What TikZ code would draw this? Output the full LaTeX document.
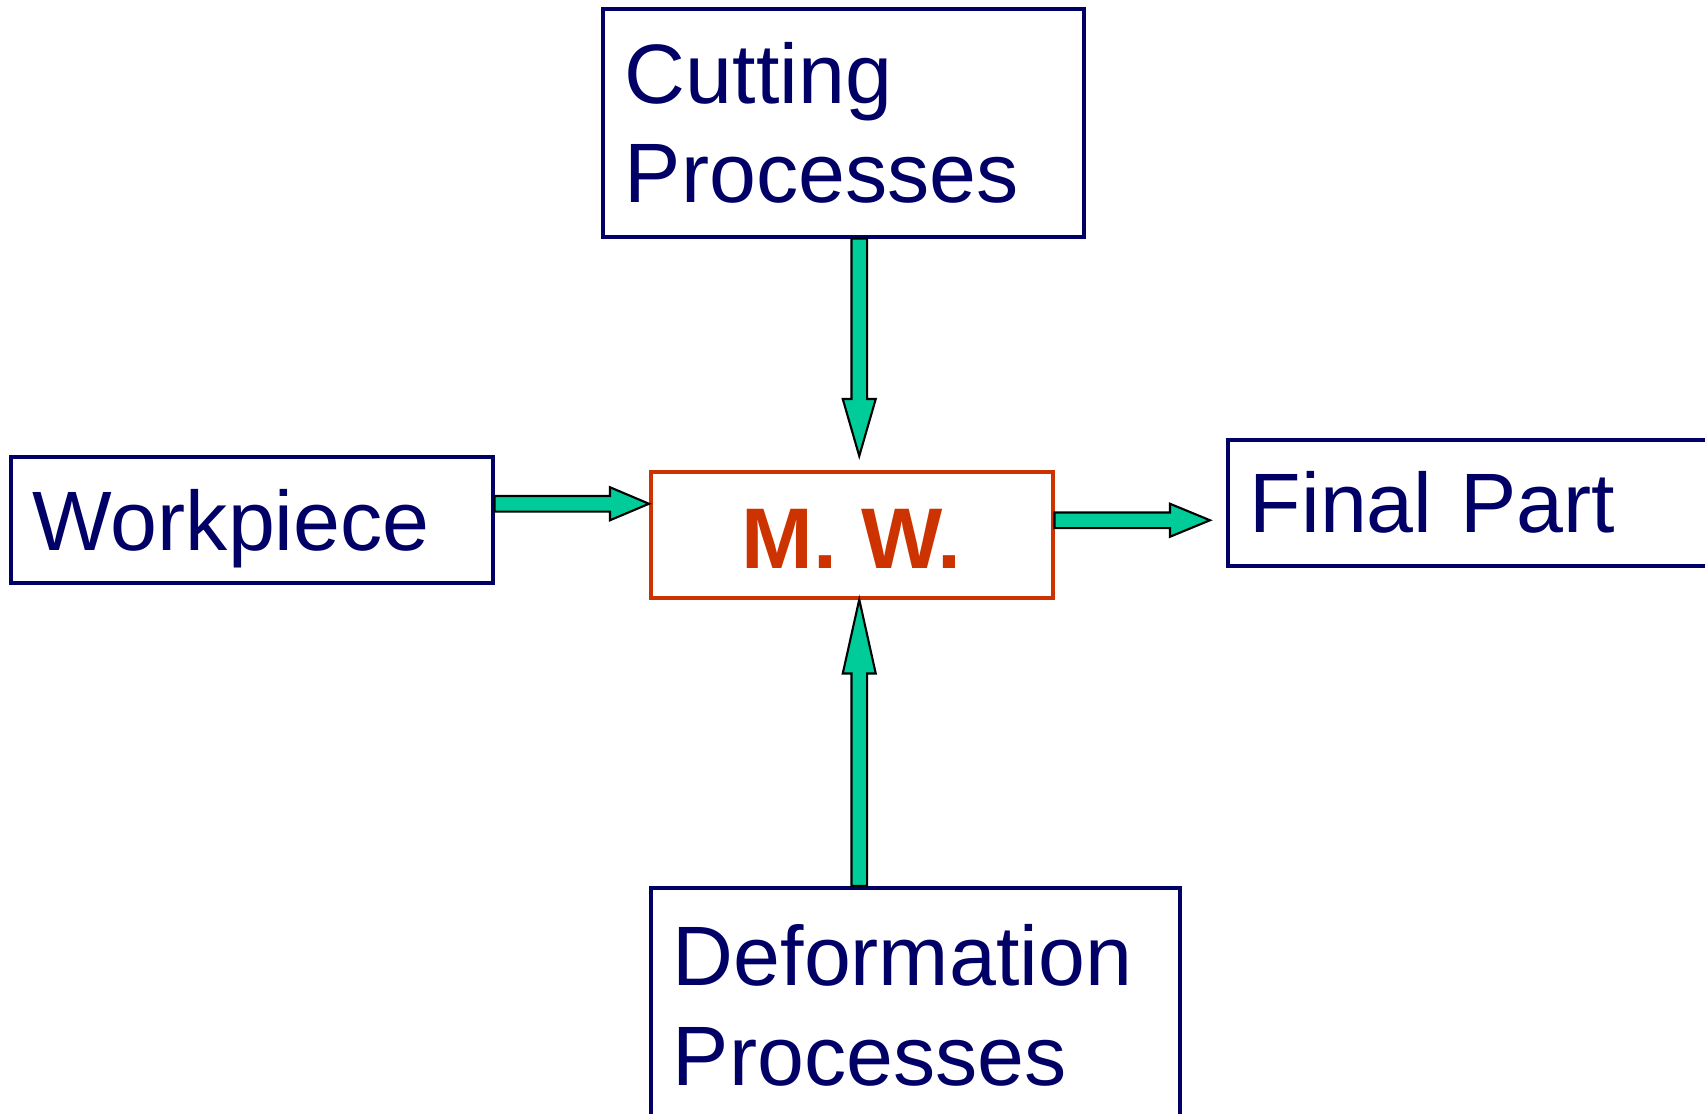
\documentclass[tikz,border=0pt]{standalone}
\usepackage{fontspec}
\setmainfont{Liberation Sans}
\usepackage{tikz}
\usetikzlibrary{calc}
\definecolor{MWNavy}{HTML}{000066}
\definecolor{MWRed}{HTML}{CC3300}
\definecolor{MWGreen}{HTML}{00CC99}
\tikzset{
  procbox/.style={rectangle,draw=MWNavy,line width=1pt,text=MWNavy,anchor=north west,align=left,inner xsep=0.22cm,inner ysep=0pt,font=\fontsize{24pt}{28.3pt}\selectfont},
  mwbox/.style={rectangle,draw=MWRed,line width=1pt,text=MWRed,anchor=north west,minimum width=4.02cm,minimum height=1.26cm,inner sep=0pt,font=\fontsize{24.5pt}{28pt}\selectfont\bfseries},
  fatarrow/.style={draw=black,fill=MWGreen,line width=0.6pt,line join=miter,
    to path={let \p1=(\tikztostart), \p2=(\tikztotarget), \p3=($(\tikztotarget)!#1!(\tikztostart)$), \n1={atan2(\y2-\y1,\x2-\x1)} in
      ($(\p1)+(\n1+90:0.078cm)$) -- ($(\p3)+(\n1+90:0.078cm)$) -- ($(\p3)+(\n1+90:0.165cm)$) -- (\p2)
      -- ($(\p3)+(\n1-90:0.165cm)$) -- ($(\p3)+(\n1-90:0.078cm)$) -- ($(\p1)+(\n1-90:0.078cm)$) -- cycle}},
  fatarrow/.default=0.4cm,
}

\begin{document}
\begin{tikzpicture}
  \useasboundingbox (0,0) rectangle (17.05,-11.14);
  \node[procbox,text width=4.37cm,minimum height=2.28cm] (cut) at (6.01,-0.07) {Cutting\\Processes};
  \node[procbox,text width=4.38cm,minimum height=1.26cm,text depth=0pt] (wp) at (0.09,-4.55) {Workpiece};
  \node[mwbox,text height=0.68cm,text depth=0pt] (mw) at (6.49,-4.70) {M. W.};
  \node[procbox,text width=5.5cm,minimum height=1.26cm] (fp) at (12.26,-4.38) {Final Part};
  \node[procbox,text width=4.85cm,minimum height=2.35cm] (def) at (6.49,-8.86) {Deformation\\Processes};

  \coordinate (cutout) at ([xshift=0.16cm]cut.south);
  \coordinate (defout) at ([xshift=-0.56cm]def.north);
  \coordinate (wpout) at ([yshift=0.16cm]wp.east);
  \coordinate (mwout) at ([yshift=0.145cm]mw.east);

  \draw[fatarrow=0.57cm] (cutout) to ([yshift=0.14cm]cutout |- mw.north);
  \draw[fatarrow=0.74cm] (defout) to (defout |- mw.south);
  \draw[fatarrow=0.39cm] (wpout) to (wpout -| mw.west);
  \draw[fatarrow=0.40cm] (mwout) to ([xshift=-0.16cm]mwout -| fp.west);
\end{tikzpicture}
\end{document}
